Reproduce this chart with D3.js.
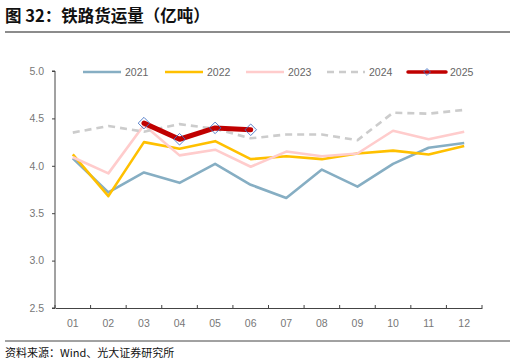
<!DOCTYPE html>
<html>
<head>
<meta charset="utf-8">
<script src="https://cdn.jsdelivr.net/npm/d3@7"></script>
<style>
  body { margin: 0; background: #fff; }
  text { font-family: "Liberation Sans", Arial, "Noto Sans CJK SC", sans-serif; }
  .cjk { font-family: "Noto Sans CJK SC", sans-serif; }
</style>
</head>
<body>
<svg id="chart" width="516" height="364"></svg>
<script>
var months = ['01', '02', '03', '04', '05', '06', '07', '08', '09', '10', '11', '12'];
var yTicks = [2.5, 3.0, 3.5, 4.0, 4.5, 5.0];

var v2021 = [4.08, 3.72, 3.93, 3.82, 4.02, 3.80, 3.66, 3.96, 3.78, 4.02, 4.19, 4.24];
var v2022 = [4.12, 3.68, 4.25, 4.18, 4.26, 4.07, 4.10, 4.07, 4.13, 4.16, 4.12, 4.21];
var v2023 = [4.09, 3.92, 4.43, 4.11, 4.17, 3.99, 4.15, 4.10, 4.13, 4.37, 4.28, 4.36];
var v2024 = [4.35, 4.42, 4.36, 4.44, 4.39, 4.29, 4.33, 4.33, 4.27, 4.56, 4.55, 4.59];
var v2025 = [null, null, 4.45, 4.28, 4.40, 4.38];

var series = [
    { name: '2021', values: v2021, color: '#86AEC3', width: 2.6 },
    { name: '2022', values: v2022, color: '#FFC000', width: 2.6 },
    { name: '2023', values: v2023, color: '#FFCCCC', width: 2.6 },
    { name: '2024', values: v2024, color: '#CCCCCC', width: 2.6, dash: '7,5' },
    { name: '2025', values: v2025, color: '#C00000', width: 5, marker: true }
];

var svg = d3.select('#chart');
var mLeft = 55, mRight = 482, mTop = 71, mBottom = 308;

var x = d3.scaleBand().domain(months).range([mLeft, mRight]);
var y = d3.scaleLinear().domain([2.5, 5.0]).range([mBottom, mTop]);

// title
svg.append('text').attr('class', 'cjk')
    .attr('x', 5).attr('y', 22)
    .style('font-size', '16.5px').style('font-weight', 'bold').style('fill', '#111')
    .text('图 32：铁路货运量（亿吨）');
svg.append('line').attr('x1', 5).attr('x2', 510).attr('y1', 32).attr('y2', 32)
    .attr('stroke', '#666').attr('stroke-width', 1.5);

// axes
var yAxis = svg.append('g').attr('transform', 'translate(' + mLeft + ',0)')
    .call(d3.axisLeft(y).tickValues(yTicks).tickFormat(d3.format('.1f')).tickSize(3).tickPadding(8));
var xAxis = svg.append('g').attr('transform', 'translate(0,' + mBottom + ')')
    .call(d3.axisBottom(x).tickSize(0).tickPadding(12));
xAxis.selectAll('.tick line').remove();
xAxis.selectAll('.bt').data(d3.range(months.length + 1)).enter().append('line')
    .attr('x1', function(i) { return mLeft + i * x.step(); })
    .attr('x2', function(i) { return mLeft + i * x.step(); })
    .attr('y1', 0).attr('y2', -3).attr('stroke', '#444');
[yAxis, xAxis].forEach(function(g) {
    g.select('.domain').attr('stroke', '#444');
    g.selectAll('.tick line').attr('stroke', '#444');
    g.selectAll('text').style('font-size', '10.5px').style('fill', '#777')
        .style('font-family', '"Liberation Sans", Arial, sans-serif');
});
yAxis.select('.domain').attr('d', 'M-3,' + mTop + 'H0V' + mBottom + 'H-3');

// lines
var line = d3.line()
    .defined(function(d) { return d != null; })
    .x(function(d, i) { return x(months[i]) + x.bandwidth() / 2; })
    .y(function(d) { return y(d); });

series.forEach(function(s) {
    svg.append('path').datum(s.values)
        .attr('d', line)
        .attr('fill', 'none')
        .attr('stroke', s.color)
        .attr('stroke-width', s.width)
        .attr('stroke-linejoin', 'round')
        .attr('stroke-linecap', s.marker ? 'round' : 'butt')
        .attr('stroke-dasharray', s.dash || null);
    if (s.marker) {
        var pts = s.values.map(function(v, i) { return { v: v, m: months[i] }; })
            .filter(function(d) { return d.v != null; });
        svg.selectAll('.mk').data(pts).enter().append('path')
            .attr('transform', function(d) { return 'translate(' + (x(d.m) + x.bandwidth() / 2) + ',' + y(d.v) + ')'; })
            .attr('d', d3.symbol().type(d3.symbolDiamond2).size(85))
            .attr('fill', 'none')
            .attr('stroke', '#4472C4')
            .attr('stroke-width', 0.9);
    }
});

// legend
var legX = [83, 165, 246, 327, 408];
var legend = svg.append('g');
series.forEach(function(s, i) {
    var g = legend.append('g').attr('transform', 'translate(' + legX[i] + ',72)');
    g.append('line').attr('x1', 0).attr('x2', 38).attr('y1', 0).attr('y2', 0)
        .attr('stroke', s.color).attr('stroke-width', s.marker ? 3.5 : 2.6)
        .attr('stroke-linecap', s.marker ? 'round' : 'butt')
        .attr('stroke-dasharray', s.dash ? '7,5' : null);
    if (s.marker) {
        g.append('path').attr('transform', 'translate(19,0)')
            .attr('d', d3.symbol().type(d3.symbolDiamond2).size(30))
            .attr('fill', 'none').attr('stroke', '#4472C4').attr('stroke-width', 0.9);
    }
    g.append('text').attr('x', 42).attr('y', 4)
        .style('font-size', '10.5px').style('fill', '#666').text(s.name);
});

// footer
svg.append('line').attr('x1', 5).attr('x2', 510).attr('y1', 341).attr('y2', 341)
    .attr('stroke', '#444').attr('stroke-width', 1);
svg.append('text').attr('class', 'cjk')
    .attr('x', 5).attr('y', 357)
    .style('font-size', '11px').style('fill', '#111')
    .text('资料来源：Wind、光大证券研究所');
</script>
</body>
</html>
